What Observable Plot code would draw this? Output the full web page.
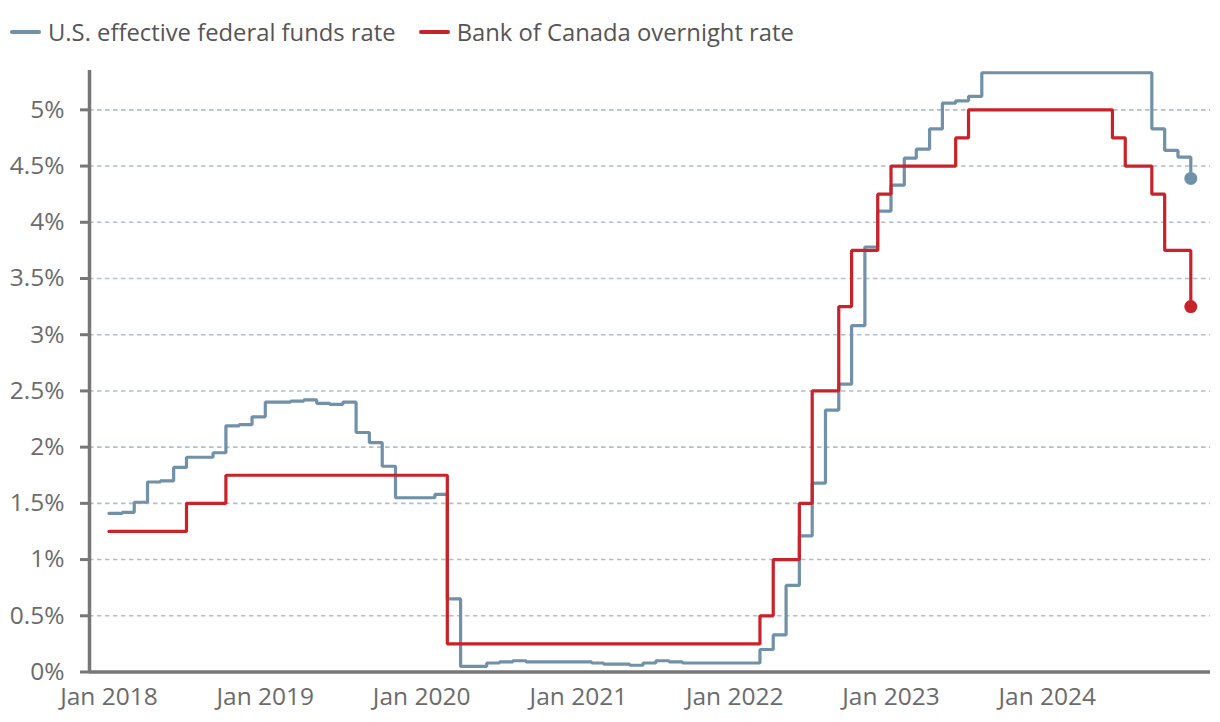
<!DOCTYPE html>
<html>
<head>
<meta charset="utf-8">
<script src="https://cdn.jsdelivr.net/npm/d3@7"></script>
<script src="https://cdn.jsdelivr.net/npm/@observablehq/plot@0.6"></script>
<style>
  html, body { margin: 0; padding: 0; background: #fff; overflow: hidden; }
  body { font-family: "Open Sans", Lato, sans-serif; }
  #legend { height: 64px; display: flex; align-items: center; padding-left: 10px; box-sizing: border-box; }
  .item { display: flex; align-items: center; margin-right: 23px; font-size: 23.8px; color: #555; }
  .sw { width: 31px; height: 4px; border-radius: 2px; margin-right: 7px; }
  #chart svg { display: block; }
</style>
</head>
<body>
<div id="legend"></div>
<div id="chart"></div>
<script>
// ---- data ----
const seriesNames = ["U.S. effective federal funds rate", "Bank of Canada overnight rate"];
const seriesColors = ["#7091a8", "#c8222b"];
const startMonth = "2018-01-01";
const endMonth = "2025-01-01"; // exclusive
const usRate = [
  1.41,1.42,1.51,1.69,1.70,1.82,1.91,1.91,1.95,2.19,2.20,2.27,
  2.40,2.40,2.41,2.42,2.39,2.38,2.40,2.13,2.04,1.83,1.55,1.55,
  1.55,1.58,0.65,0.05,0.05,0.08,0.09,0.10,0.09,0.09,0.09,0.09,
  0.09,0.08,0.07,0.07,0.06,0.08,0.10,0.09,0.08,0.08,0.08,0.08,
  0.08,0.08,0.20,0.33,0.77,1.21,1.68,2.33,2.56,3.08,3.78,4.10,
  4.33,4.57,4.65,4.83,5.06,5.08,5.12,5.33,5.33,5.33,5.33,5.33,
  5.33,5.33,5.33,5.33,5.33,5.33,5.33,5.33,4.83,4.64,4.58,4.39
];
const bocRate = [
  1.25,1.25,1.25,1.25,1.25,1.25,1.50,1.50,1.50,1.75,1.75,1.75,
  1.75,1.75,1.75,1.75,1.75,1.75,1.75,1.75,1.75,1.75,1.75,1.75,
  1.75,1.75,0.25,0.25,0.25,0.25,0.25,0.25,0.25,0.25,0.25,0.25,
  0.25,0.25,0.25,0.25,0.25,0.25,0.25,0.25,0.25,0.25,0.25,0.25,
  0.25,0.25,0.50,1.00,1.00,1.50,2.50,2.50,3.25,3.75,3.75,4.25,
  4.50,4.50,4.50,4.50,4.50,4.75,5.00,5.00,5.00,5.00,5.00,5.00,
  5.00,5.00,5.00,5.00,5.00,4.75,4.50,4.50,4.25,3.75,3.75,3.25
];
const yTicks = [0,0.5,1,1.5,2,2.5,3,3.5,4,4.5,5];
const xTickYears = [2018,2019,2020,2021,2022,2023,2024];

// ---- build ----
const months = d3.utcMonth.range(new Date(startMonth), new Date(endMonth));
const usData = months.map((d, i) => ({date: d, value: usRate[i], s: seriesNames[0]}));
const bocData = months.map((d, i) => ({date: d, value: bocRate[i], s: seriesNames[1]}));
const lastPts = [usData[usData.length - 1], bocData[bocData.length - 1]];
const xTicks = xTickYears.map(y => new Date(Date.UTC(y, 0, 1)));

// legend
const legend = document.getElementById("legend");
seriesNames.forEach((n, i) => {
  const it = document.createElement("div");
  it.className = "item";
  it.innerHTML = `<span class="sw" style="background:${seriesColors[i]}"></span><span>${n}</span>`;
  legend.appendChild(it);
});

const axisColor = "#777";
const xDomain = [new Date(Date.UTC(2017, 10, 16, 12)), new Date(Date.UTC(2025, 0, 16))];

const chart = Plot.plot({
  width: 1220,
  height: 658,
  marginLeft: 89,
  marginRight: 10,
  marginTop: 6,
  marginBottom: 50.5,
  style: {fontFamily: "'Open Sans', Lato, sans-serif", fontSize: "24.5px", color: "#6b6b6b", background: "#fff"},
  x: {type: "utc", domain: xDomain, label: null},
  y: {domain: [0, 5.35], label: null},
  marks: [
    Plot.ruleY(yTicks.filter(d => d > 0), {stroke: "#b3bec5", strokeWidth: 1.6, strokeDasharray: "4.5,3.5"}),
    Plot.line(usData, {x: "date", y: "value", curve: "step-after", stroke: seriesColors[0], strokeWidth: 3.2, strokeLinejoin: "miter"}),
    Plot.line(bocData, {x: "date", y: "value", curve: "step-after", stroke: seriesColors[1], strokeWidth: 3.2, strokeLinejoin: "miter"}),
    Plot.dot(lastPts, {x: "date", y: "value", r: 6.5, fill: (d, i) => seriesColors[i], stroke: "none"}),
    Plot.axisY({ticks: yTicks, tickSize: 9, tickPadding: 16, tickFormat: d => d + "%", stroke: axisColor, strokeWidth: 3, fill: "#6b6b6b", fontSize: 24.5, label: null}),
    Plot.axisX({ticks: xTicks, tickSize: 0, tickPadding: 15.5, tickFormat: d3.utcFormat("Jan %Y"), fill: "#6b6b6b", fontSize: 24.5, label: null}),
    Plot.ruleX([xDomain[0]], {stroke: axisColor, strokeWidth: 3.5}),
    Plot.ruleY([0], {stroke: axisColor, strokeWidth: 3.5})
  ]
});
document.getElementById("chart").appendChild(chart);
</script>
</body>
</html>
